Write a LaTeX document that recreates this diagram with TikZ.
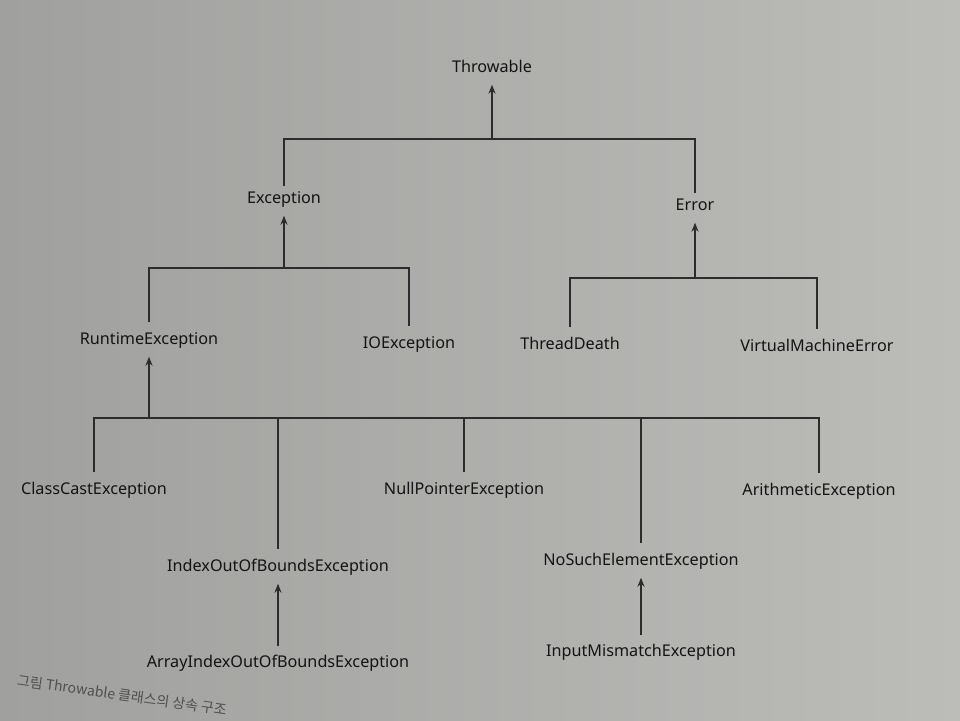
\documentclass[tikz,border=0pt]{standalone}
\usepackage{fontspec}
\setmainfont{Noto Sans}
\newfontfamily\krfont{Noto Sans CJK KR}
\usetikzlibrary{arrows.meta}
\definecolor{paperL}{RGB}{160,160,158}
\definecolor{paperM}{RGB}{198,198,195}
\definecolor{paperR}{RGB}{188,188,185}
\definecolor{ink}{RGB}{20,20,20}
\begin{document}
\begin{tikzpicture}[x=1pt,y=-1pt,
  cls/.style={font=\fontsize{16.2}{19}\selectfont, text=ink, text height=11.5pt, text depth=3.5pt, inner sep=3pt},
  link/.style={draw=ink!90, line width=1.3pt},
  up/.style={link, -{Stealth[length=9pt,width=7pt]}, shorten >=6pt},
  bar/.style={link, shorten <=7pt, shorten >=7pt},
]
\shade[left color=paperL, middle color=paperM, right color=paperR] (0,0) rectangle (960,720);
\useasboundingbox (0,0) rectangle (960,720);

% nodes
\node[cls] (thr) at (492,68) {Throwable};
\node[cls] (exc) at (284,199) {Exception};
\node[cls] (err) at (695,206) {Error};
\node[cls] (rte) at (149,340) {RuntimeException};
\node[cls] (ioe) at (409,344) {IOException};
\node[cls] (td) at (570,345) {ThreadDeath};
\node[cls] (vme) at (817,347) {VirtualMachineError};
\node[cls] (cce) at (94,490) {ClassCastException};
\node[cls] (ioob) at (278,567) {IndexOutOfBoundsException};
\node[cls] (npe) at (464,490) {NullPointerException};
\node[cls] (nse) at (641,561) {NoSuchElementException};
\node[cls] (ae) at (819,491) {ArithmeticException};
\node[cls] (aioob) at (278,663) {ArrayIndexOutOfBoundsException};
\node[cls] (ime) at (641,652) {InputMismatchException};

% junctions
\coordinate (j1) at (thr |- 0,139);
\coordinate (j2) at (exc |- 0,268);
\coordinate (j3) at (err |- 0,278);
\coordinate (j4) at (rte |- 0,418);

% Throwable tier
\draw[up] (j1) -- (thr);
\draw[link, shorten <=2pt, shorten >=2pt] (exc) |- (j1) -| (err);

% Exception tier
\draw[up] (j2) -- (exc);
\draw[bar] (rte) |- (j2) -| (ioe);

% Error tier
\draw[up] (j3) -- (err);
\draw[bar] (td) |- (j3) -| (vme);

% RuntimeException tier
\draw[up] (j4) -- (rte);
\draw[bar] (cce) |- (j4) -| (ae);
\draw[link, shorten >=7pt] (ioob |- j4) -- (ioob);
\draw[link, shorten >=7pt] (npe |- j4) -- (npe);
\draw[link, shorten >=7pt] (nse |- j4) -- (nse);

% sub-subclasses
\draw[up, shorten <=6pt] (aioob) -- (ioob);
\draw[up, shorten <=6pt] (ime) -- (nse);

% caption
\node[font=\krfont\fontsize{14}{16}\selectfont, text=ink!75, rotate=-8, inner sep=0pt] (cap) at (122,695) {그림 Throwable 클래스의 상속 구조};
\end{tikzpicture}
\end{document}
